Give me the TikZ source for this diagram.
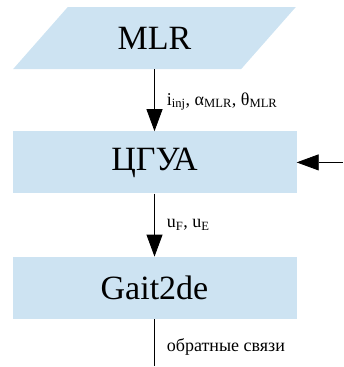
\documentclass[tikz,border=0pt]{standalone}
\usepackage{fontspec}
\setmainfont{Liberation Serif}
\usepackage{xcolor}
\usetikzlibrary{arrows.meta,positioning,shapes.geometric}
\definecolor{blockblue}{RGB}{205,227,242}

\begin{document}
\begin{tikzpicture}[
  font=\fontsize{34}{37}\selectfont,
  node distance=62pt,
  box/.style={fill=blockblue,draw=none,align=center,inner sep=3pt,
    minimum height=62pt,minimum width=284pt},
  io/.style={box,trapezium,trapezium left angle=48.4,
    trapezium right angle=131.6,trapezium stretches=true,minimum width=283pt},
  lbl/.style={font=\fontsize{18}{20}\selectfont,right=11pt,inner sep=1pt},
  flow/.style={-{Triangle[length=22pt,width=16pt]},line width=0.8pt},
  link/.style={line width=0.8pt}
]
\useasboundingbox (0,0) rectangle (343pt,-367pt);
\node[io] (mlr) at (154.5pt,-38pt) {MLR};
\node[box,below=of mlr] (cgua) {ЦГУА};
\node[box,below=63pt of cgua] (gait) {Gait2de};
\coordinate[right=46pt of cgua.east] (ext);
\coordinate[below=47pt of gait.south] (fb);
\draw[flow] (mlr) -- node[lbl,pos=.52] {i\textsubscript{inj}, α\textsubscript{MLR}, θ\textsubscript{MLR}} (cgua);
\draw[flow] (cgua) -- node[lbl,pos=.5] {u\textsubscript{F}, u\textsubscript{E}} (gait);
\draw[flow] (ext) -- (cgua.east);
\draw[link] (gait) -- node[lbl,pos=.6] {обратные связи} (fb);
\end{tikzpicture}
\end{document}
